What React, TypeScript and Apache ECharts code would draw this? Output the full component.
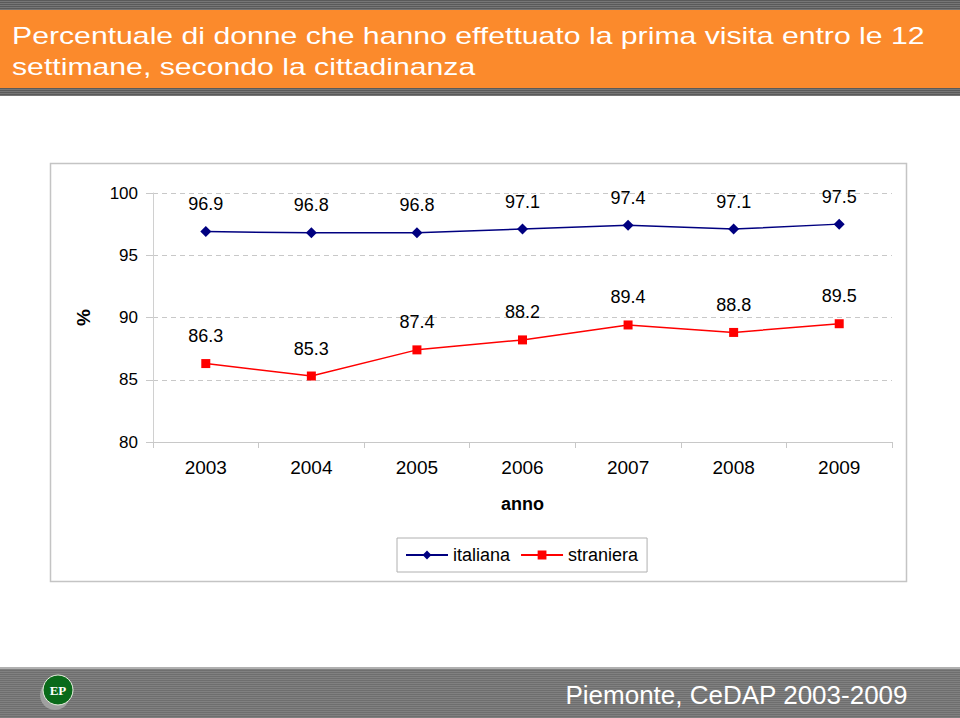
import React, { useEffect, useRef } from "react";
import * as echarts from "echarts";

const years = ["2003", "2004", "2005", "2006", "2007", "2008", "2009"];
const italiana = [96.9, 96.8, 96.8, 97.1, 97.4, 97.1, 97.5];
const straniera = [86.3, 85.3, 87.4, 88.2, 89.4, 88.8, 89.5];
const titleLines = [
  "Percentuale di donne che hanno effettuato la prima visita entro le 12",
  "settimane, secondo la cittadinanza",
];
const footerText = "Piemonte, CeDAP 2003-2009";

export default function App() {
  const ref = useRef<HTMLDivElement>(null);
  useEffect(() => {
    if (!ref.current) return;
    const chart = echarts.init(ref.current, null, { renderer: "svg" });
    const font = "'Liberation Sans', Arial, sans-serif";
    const titleFont = "24px 'Liberation Sans', Arial, sans-serif";
    let titleScale = 1.3;
    try {
      const c = document.createElement("canvas").getContext("2d");
      if (c) {
        c.font = titleFont;
        const w = c.measureText(titleLines[0]).width;
        if (w > 0) titleScale = 913 / w;
      }
    } catch (e) {}
    const stripes: any[] = [];
    for (let y = 0; y < 10; y += 2) {
      stripes.push({ type: "rect", shape: { x: 0, y, width: 960, height: 1 }, style: { fill: "#5a5a5a" }, silent: true });
    }
    for (let y = 88; y < 96; y += 2) {
      stripes.push({ type: "rect", shape: { x: 0, y, width: 960, height: 1 }, style: { fill: "#5a5a5a" }, silent: true });
    }
    for (let y = 670; y < 718; y += 2) {
      stripes.push({ type: "rect", shape: { x: 0, y, width: 960, height: 1 }, style: { fill: "#6e6e6e" }, silent: true });
    }
    chart.setOption({
      animation: false,
      backgroundColor: "#ffffff",
      textStyle: { fontFamily: font },
      graphic: [
        { type: "rect", shape: { x: 0, y: 0, width: 960, height: 10 }, style: { fill: "#767676" }, silent: true },
        { type: "rect", shape: { x: 0, y: 10, width: 960, height: 78 }, style: { fill: "#fb8a2c" }, silent: true },
        { type: "rect", shape: { x: 0, y: 88, width: 960, height: 8 }, style: { fill: "#767676" }, silent: true },
        { type: "rect", shape: { x: 0, y: 667, width: 960, height: 51 }, style: { fill: "#808080" }, silent: true },
        { type: "rect", shape: { x: 0, y: 667, width: 960, height: 2 }, style: { fill: "#b0b0b0" }, silent: true },
        ...stripes,
        {
          type: "text", x: 12, y: 36, scaleX: titleScale,
          style: { text: titleLines[0], fill: "#ffffff", font: titleFont, verticalAlign: "middle" },
        },
        {
          type: "text", x: 12, y: 67, scaleX: titleScale,
          style: { text: titleLines[1], fill: "#ffffff", font: titleFont, verticalAlign: "middle" },
        },
        {
          type: "rect", shape: { x: 50.5, y: 163.5, width: 856, height: 418 },
          style: { fill: "none", stroke: "#c4c4c4", lineWidth: 1.5 }, silent: true, z: -1,
        },
        {
          type: "circle", shape: { cx: 55, cy: 695, r: 15 }, style: { fill: "#a0a0a0" }, silent: true,
        },
        {
          type: "circle", shape: { cx: 58, cy: 690, r: 15 }, style: { fill: "#0a6a1a", stroke: "#e8f0e0", lineWidth: 1 }, silent: true,
        },
        {
          type: "text", x: 58, y: 690,
          style: { text: "EP", fill: "#ffffff", font: "bold 13px 'Liberation Serif', serif", align: "center", verticalAlign: "middle" },
          silent: true,
        },
        {
          type: "text", right: 52, top: 682,
          style: { text: footerText, fill: "#ffffff", font: "26px 'Liberation Sans', sans-serif" },
        },
      ],
      legend: {
        left: 397, top: 538,
        padding: [8, 9, 8, 8],
        itemGap: 10,
        itemWidth: 42,
        itemHeight: 11,
        borderColor: "#b0b0b0",
        borderWidth: 1,
        textStyle: { fontSize: 18, color: "#000000", fontFamily: font },
        data: ["italiana", "straniera"],
      },
      grid: { left: 153, right: 68, top: 193, bottom: 276 },
      xAxis: {
        type: "category",
        data: years,
        boundaryGap: true,
        name: "anno",
        nameLocation: "middle",
        nameGap: 53,
        nameTextStyle: { fontSize: 18, fontWeight: "bold", color: "#000000" },
        axisLine: { lineStyle: { color: "#c8c8c8", width: 1 } },
        axisTick: { show: true, length: 6, lineStyle: { color: "#c8c8c8" } },
        axisLabel: { fontSize: 19, color: "#000000", margin: 16 },
      },
      yAxis: {
        type: "value",
        min: 80,
        max: 100,
        interval: 5,
        name: "%",
        nameLocation: "middle",
        nameRotate: 90,
        nameGap: 60,
        nameTextStyle: { fontSize: 19, fontWeight: "bold", color: "#000000" },
        axisLine: { show: true, lineStyle: { color: "#d0d0d0" } },
        axisTick: { show: true, length: 7, lineStyle: { color: "#c8c8c8" } },
        axisLabel: { fontSize: 17, color: "#000000", margin: 15 },
        splitLine: { show: true, lineStyle: { color: "#c8c8c8", type: [5, 4] } },
      },
      series: [
        {
          name: "italiana",
          type: "line",
          data: italiana,
          color: "#000080",
          symbol: "diamond",
          symbolSize: 11,
          lineStyle: { width: 1.5, color: "#000080" },
          itemStyle: { color: "#000080" },
          label: { show: true, position: "top", distance: 13, fontSize: 18, color: "#000000", formatter: (p: any) => p.value.toFixed(1) },
        },
        {
          name: "straniera",
          type: "line",
          data: straniera,
          color: "#ff0000",
          symbol: "rect",
          symbolSize: 9,
          lineStyle: { width: 1.5, color: "#ff0000" },
          itemStyle: { color: "#ff0000" },
          label: { show: true, position: "top", distance: 14, fontSize: 18, color: "#000000", formatter: (p: any) => p.value.toFixed(1) },
        },
      ],
    });
    return () => chart.dispose();
  }, []);
  return <div ref={ref} style={{ position: "absolute", left: 0, top: 0, width: 960, height: 718 }} />;
}
